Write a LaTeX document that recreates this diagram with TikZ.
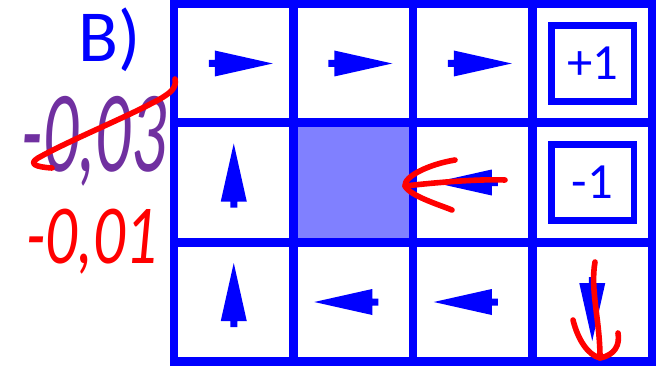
\documentclass[tikz,border=0pt]{standalone}
\usepackage{fontspec}
\setmainfont{Carlito}
\usetikzlibrary{positioning}
\definecolor{gridBlue}{HTML}{0000FF}
\definecolor{wallBlue}{HTML}{8080FF}
\definecolor{inkRed}{HTML}{FF0000}
\definecolor{inkPurple}{HTML}{7030A0}

% policy arrow: x, y (cell centre), angle
\newcommand{\polarrow}[3]{%
  \fill[gridBlue, shift={(#1,#2)}, rotate=#3]
    (39,0) -- (-19,13) -- (-19,3.5) -- (-25,3.5) -- (-25,-3.5)
    -- (-19,-3.5) -- (-19,-13) -- cycle;}

\begin{document}
\begin{tikzpicture}[
  x=0.75pt, y=-0.75pt,
  gridline/.style={draw=gridBlue, line width=6.4pt},
  termbox/.style={rectangle, draw=gridBlue, line width=5pt, inner sep=0pt,
    minimum width=62pt, minimum height=57pt, text=gridBlue,
    font=\fontsize{38}{42}\selectfont},
  paneltitle/.style={text=gridBlue, inner sep=0pt,
    font=\fontsize{55}{60}\selectfont},
  handnum/.style={text=#1, inner sep=0pt, font=\itshape},
  inkstroke/.style={draw=inkRed, line width=4.2pt, line cap=round, line join=round},
]
\useasboundingbox (0,0) rectangle (666,367);

% ======= Grid =======
\fill[wallBlue] (293.5,122.5) rectangle (413,242.5);
\draw[gridline] (174,4) rectangle (652,361.5);
\draw[gridline] (293.5,4) -- (293.5,361.5);
\draw[gridline] (413,4) -- (413,361.5);
\draw[gridline] (532.5,4) -- (532.5,361.5);
\draw[gridline] (174,122.5) -- (652,122.5);
\draw[gridline] (174,242.5) -- (652,242.5);

% Terminal states
\node[termbox] (goal) at (592.5,63.5) {+1};
\node[termbox] (pit) at (592.5,182.5) {-1};

% Policy, row by row
\polarrow{233.75}{63.5}{0}
\polarrow{353.25}{63.5}{0}
\polarrow{472.75}{63.5}{0}
\polarrow{233.75}{182.5}{90}
\polarrow{472.75}{182.5}{180}
\polarrow{233.75}{302}{90}
\polarrow{353.25}{302}{180}
\polarrow{472.75}{302}{180}
\polarrow{592.25}{302}{270}

% ======= Labels =======
\node[paneltitle, anchor=base] (panel) at (110,62) {B)};
\node[handnum=inkPurple, anchor=base, xscale=0.6,
  font=\fontsize{87}{90}\selectfont\itshape] (oldcost) at (94,171) {-0,03};
\node[handnum=inkRed, anchor=base, xscale=0.75,
  font=\fontsize{63}{70}\selectfont\itshape] (newcost) at (92,263) {-0,01};

% Red corrections
\draw[inkstroke] (175,79) .. controls (177,88) and (170,93) .. (160,99)
  .. controls (125,118) and (70,140) .. (38,158)
  .. controls (28,164) and (36,167) .. (52,168);
\draw[inkstroke] (505,180) .. controls (480,179) and (440,182) .. (405,186);
\draw[inkstroke] (455,160) .. controls (430,164) and (404,176) .. (405,186)
  .. controls (410,196) and (440,205) .. (452,210);
\draw[inkstroke] (595,262) .. controls (590,290) and (600,320) .. (600,358);
\draw[inkstroke] (573,320) .. controls (578,340) and (588,355) .. (600,358)
  .. controls (615,355) and (620,345) .. (618,333);

\end{tikzpicture}
\end{document}
